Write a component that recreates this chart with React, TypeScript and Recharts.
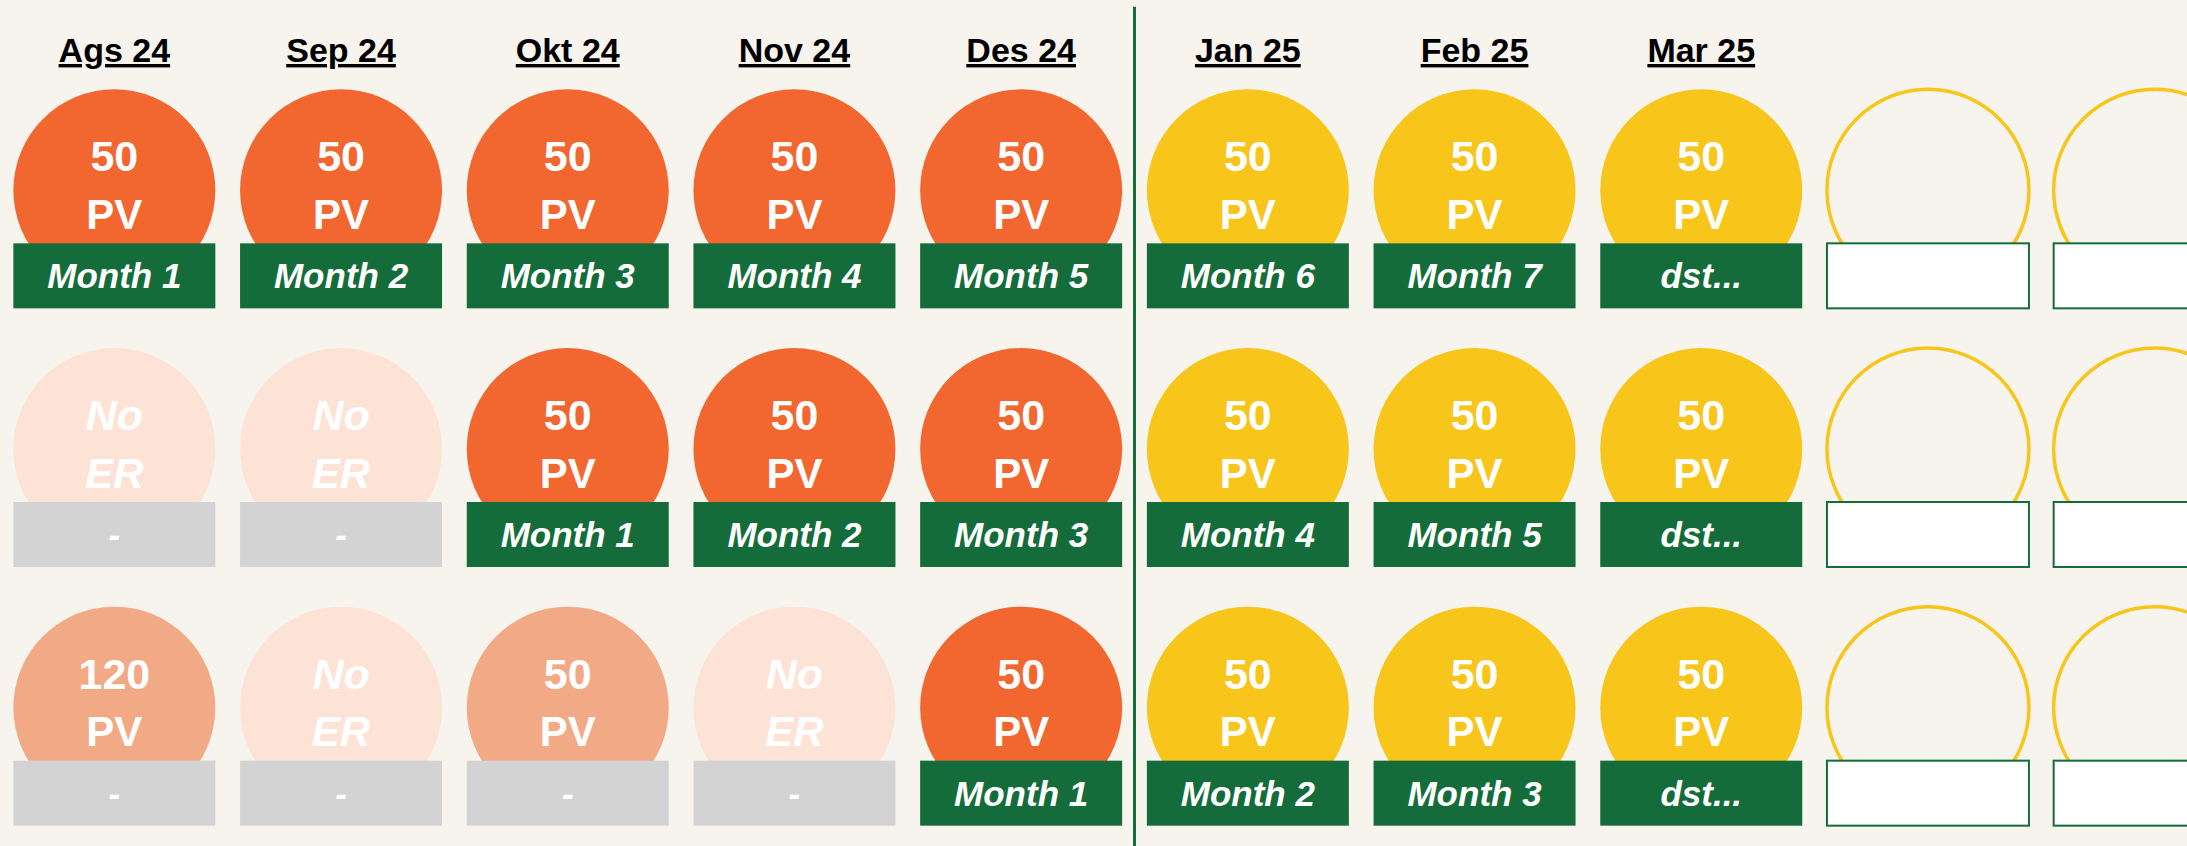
import { ScatterChart, Scatter, XAxis, YAxis, ReferenceLine } from 'recharts';

const months = ['Ags 24', 'Sep 24', 'Okt 24', 'Nov 24', 'Des 24', 'Jan 25', 'Feb 25', 'Mar 25', '', ''];

// status: done = counted month, next = coming month, partial = PV without ER, none = no ER, open = empty slot
const row1Status = ['done', 'done', 'done', 'done', 'done', 'next', 'next', 'next', 'open', 'open'];
const row2Status = ['none', 'none', 'done', 'done', 'done', 'next', 'next', 'next', 'open', 'open'];
const row3Status = ['partial', 'none', 'partial', 'none', 'done', 'next', 'next', 'next', 'open', 'open'];

const row1Pv = [50, 50, 50, 50, 50, 50, 50, 50, null, null];
const row2Pv = [null, null, 50, 50, 50, 50, 50, 50, null, null];
const row3Pv = [120, null, 50, null, 50, 50, 50, 50, null, null];

const row1Labels = ['Month 1', 'Month 2', 'Month 3', 'Month 4', 'Month 5', 'Month 6', 'Month 7', 'dst...', '', ''];
const row2Labels = ['-', '-', 'Month 1', 'Month 2', 'Month 3', 'Month 4', 'Month 5', 'dst...', '', ''];
const row3Labels = ['-', '-', '-', '-', 'Month 1', 'Month 2', 'Month 3', 'dst...', '', ''];

const rows = [
  { status: row1Status, pv: row1Pv, labels: row1Labels },
  { status: row2Status, pv: row2Pv, labels: row2Labels },
  { status: row3Status, pv: row3Pv, labels: row3Labels },
];

const cells = rows.flatMap((r, row) =>
  months.map((_, col) => ({ col, row, status: r.status[col], pv: r.pv[col], label: r.labels[col] }))
);

const BG = '#F7F4EE';
const GREEN = '#146C3A';
const ORANGE = '#F26630';
const YELLOW = '#F8C51B';
const LIGHT = '#F2AA86';
const PALE = '#FCE3D6';
const GREY = '#D3D3D3';
const FONT = '"Liberation Sans", Arial, sans-serif';

const R = 101;

function CellShape(props: any) {
  const { cx, cy, payload } = props;
  const st = payload.status;
  const rectY = cy + 53;
  const rectH = 65;

  if (st === 'open') {
    return (
      <g>
        <circle cx={cx} cy={cy} r={R} fill="none" stroke={YELLOW} strokeWidth={3.5} />
        <rect x={cx - R} y={rectY} width={R * 2} height={rectH} fill="#fff" stroke={GREEN} strokeWidth={2} />
      </g>
    );
  }

  const fill = st === 'done' ? ORANGE : st === 'next' ? YELLOW : st === 'partial' ? LIGHT : PALE;
  const boxFill = st === 'done' || st === 'next' ? GREEN : GREY;
  const noEr = st === 'none';
  const top = noEr ? 'No' : String(payload.pv);
  const bottom = noEr ? 'ER' : 'PV';

  return (
    <g>
      <circle cx={cx} cy={cy} r={R} fill={fill} />
      <text x={cx} y={cy - 34} textAnchor="middle" dominantBaseline="central" fill="#fff"
        fontFamily={FONT} fontWeight="bold" fontStyle={noEr ? 'italic' : 'normal'} fontSize={43}>
        {top}
      </text>
      <text x={cx} y={cy + 24} textAnchor="middle" dominantBaseline="central" fill="#fff"
        fontFamily={FONT} fontWeight="bold" fontStyle={noEr ? 'italic' : 'normal'} fontSize={42}>
        {bottom}
      </text>
      <rect x={cx - R} y={rectY} width={R * 2} height={rectH} fill={boxFill} />
      <text x={cx} y={rectY + rectH / 2} textAnchor="middle" dominantBaseline="central" fill="#fff"
        fontFamily={FONT} fontWeight="bold" fontStyle="italic" fontSize={35}>
        {payload.label}
      </text>
    </g>
  );
}

function MonthTick({ x, y, payload }: any) {
  const label = months[payload.value];
  if (!label) return null;
  return (
    <text x={x} y={y + 1} textAnchor="middle" fill="#000" fontFamily={FONT} fontWeight="bold"
      fontSize={34} textDecoration="underline">
      {label}
    </text>
  );
}

export default function App() {
  return (
    <div style={{ position: 'absolute', left: 0, top: 0, width: 2187, height: 846, overflow: 'hidden', background: BG }}>
      <ScatterChart width={2268} height={846} margin={{ top: 0, right: 0, bottom: 9, left: 1 }}>
        <XAxis
          type="number"
          dataKey="col"
          orientation="top"
          domain={[-0.5, 9.5]}
          ticks={months.map((_, i) => i)}
          interval={0}
          height={61}
          axisLine={false}
          tickLine={false}
          tickSize={0}
          tickMargin={0}
          tick={<MonthTick />}
        />
        <YAxis type="number" dataKey="row" domain={[-0.5, 2.5]} reversed hide />
        <ReferenceLine
          segment={[{ x: 4.5, y: -0.71 }, { x: 4.5, y: 2.6 }]}
          stroke={GREEN}
          strokeWidth={3}
          ifOverflow="visible"
        />
        <Scatter data={cells} shape={<CellShape />} isAnimationActive={false} />
      </ScatterChart>
    </div>
  );
}
